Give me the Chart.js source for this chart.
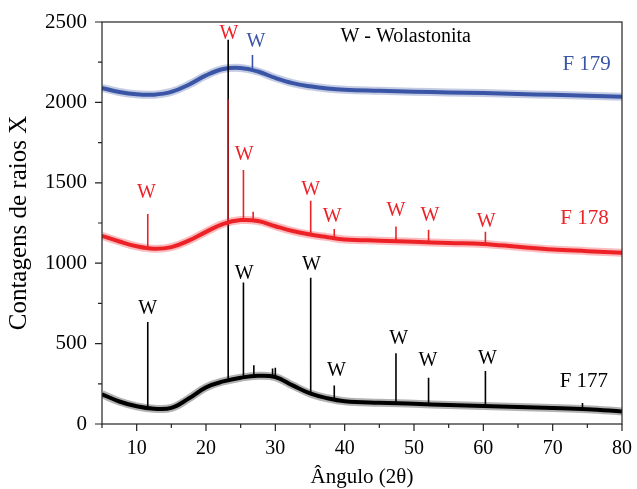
<!DOCTYPE html>
<html>
<head>
<meta charset="utf-8">
<script src="https://cdn.jsdelivr.net/npm/chart.js@4.4.1/dist/chart.umd.min.js"></script>
<style>
body{margin:0;background:#fff}
canvas{display:block}
</style>
</head>
<body>
<canvas class="chart" width="637" height="489"></canvas>
<script>
// 2theta grid of the smooth background of every pattern
const angles=[5,7.5,10,12.5,15,17.5,20,22.5,25,27.5,30,32.5,35,37.5,40,45,50,55,60,65,70,75,80]
const f177Counts=[185,140,110,95,100,158,228,265,288,300,292,240,190,160,142,132,126,118,112,106,100,92,78]
const f178Counts=[1170,1135,1105,1090,1100,1140,1195,1245,1268,1262,1230,1200,1178,1162,1148,1140,1133,1126,1120,1102,1085,1075,1065]
const f179Counts=[2090,2065,2050,2048,2065,2110,2168,2208,2214,2192,2152,2120,2100,2086,2078,2072,2067,2062,2058,2052,2047,2042,2035]

// diffraction peaks: position, foot and top
const f177PeakAngles=[11.6,23.2,25.4,26.9,29.6,30.0,35.1,38.5,47.4,52.1,60.3,74.3]
const f177PeakBases=[100,265,288,298,292,290,190,155,130,125,112,95]
const f177PeakTops=[635,2390,880,365,345,350,910,240,440,288,330,130]
const f178PeakAngles=[11.6,23.15,25.4,26.8,35.1,38.5,47.4,52.1,60.3]
const f178PeakBases=[1095,1240,1266,1266,1178,1160,1138,1132,1120]
const f178PeakTops=[1306,2020,1580,1320,1388,1213,1228,1208,1196]
const f179PeakAngles=[26.7]
const f179PeakBases=[2205]
const f179PeakTops=[2295]

// "W" marks over the wollastonite reflections
const f177LabelAngles=[11.6,25.5,35.2,38.8,47.8,52.0,60.6]
const f177LabelCounts=[715,933,989,330,529,392,404]
const f178LabelAngles=[23.3,11.4,25.5,35.1,38.2,47.4,52.3,60.4]
const f178LabelCounts=[2430,1437,1673,1455,1287,1325,1294,1256]
const f179LabelAngles=[27.2]
const f179LabelCounts=[2376]

const sampleNames=['F 177','F 178','F 179']
const sampleNameAngles=[74.5,74.6,74.9]
const sampleNameCounts=[267,1281,2233]
const legendText='W - Wolastonita'
const legendAngle=48.8
const legendCount=2407

const xTicks=[10,20,30,40,50,60,70,80]
const yTicks=[0,500,1000,1500,2000,2500]

const colors={f177:'#000000',f178:'#ed2227',f179:'#3a55a6'}
const haze={f177:'rgba(0,0,0,0.3)',f178:'rgba(237,34,39,0.3)',f179:'rgba(58,85,166,0.3)'}
const serif='"Liberation Serif","Times New Roman",serif'

function toPoints(xs,ys){
    return xs.map((x,i)=>({x:x,y:ys[i]}))
}
function toSpikes(xs,bases,tops){
    let pts=[]
    for(let i=0;i<xs.length;i++){
        pts.push({x:xs[i],y:bases[i]},{x:xs[i],y:tops[i]},{x:xs[i],y:null})
    }
    return pts
}
function band(label,data,color,width,order){
    return {label,data,borderColor:color,borderWidth:width,pointRadius:0,tension:0.4,order}
}
function spikes(label,data,color,order){
    return {label,data,borderColor:color,borderWidth:1.6,pointRadius:0,spanGaps:false,order}
}

const frameAndText={
    id:'frameAndText',
    afterDatasetsDraw(chart){
        const ctx=chart.ctx
        const a=chart.chartArea
        const xs=chart.scales.x, ys=chart.scales.y
        ctx.save()
        ctx.strokeStyle='#222'
        ctx.lineWidth=1.2
        ctx.strokeRect(a.left,a.top,a.right-a.left,a.bottom-a.top)
        ctx.beginPath()
        for(let i=0;i<xTicks.length;i++){
            let px=xs.getPixelForValue(xTicks[i])
            ctx.moveTo(px,a.bottom);ctx.lineTo(px,a.bottom+7)
            let mid=xs.getPixelForValue(xTicks[i]-5)
            ctx.moveTo(mid,a.bottom);ctx.lineTo(mid,a.bottom+4)
        }
        for(let i=0;i<yTicks.length;i++){
            let py=ys.getPixelForValue(yTicks[i])
            ctx.moveTo(a.left,py);ctx.lineTo(a.left-7,py)
            if(i>0){
                let mid=ys.getPixelForValue(yTicks[i]-250)
                ctx.moveTo(a.left,mid);ctx.lineTo(a.left-4,mid)
            }
        }
        ctx.stroke()

        ctx.textAlign='center'
        ctx.textBaseline='middle'
        ctx.font='20px '+serif
        const groups=[[f177LabelAngles,f177LabelCounts,colors.f177],[f178LabelAngles,f178LabelCounts,colors.f178],[f179LabelAngles,f179LabelCounts,colors.f179]]
        groups.forEach(g=>{
            ctx.fillStyle=g[2]
            for(let i=0;i<g[0].length;i++)
                ctx.fillText('W',xs.getPixelForValue(g[0][i]),ys.getPixelForValue(g[1][i]))
        })
        ctx.font='21px '+serif
        const nameColors=[colors.f177,colors.f178,colors.f179]
        for(let i=0;i<sampleNames.length;i++){
            ctx.fillStyle=nameColors[i]
            ctx.fillText(sampleNames[i],xs.getPixelForValue(sampleNameAngles[i]),ys.getPixelForValue(sampleNameCounts[i]))
        }
        ctx.fillStyle='#000'
        ctx.font='20px '+serif
        ctx.fillText(legendText,xs.getPixelForValue(legendAngle),ys.getPixelForValue(legendCount))
        ctx.restore()
    }
}

let myChart=document.querySelector('.chart').getContext('2d')
const xrdChart=new Chart(myChart,{
    type:'line',
    data:{
        datasets:[
            spikes('F 178 picos',toSpikes(f178PeakAngles,f178PeakBases,f178PeakTops),colors.f178,1),
            band('F 178',toPoints(angles,f178Counts),colors.f178,4,2),
            band('F 178 ruído',toPoints(angles,f178Counts),haze.f178,8,3),
            spikes('F 177 picos',toSpikes(f177PeakAngles,f177PeakBases,f177PeakTops),colors.f177,4),
            band('F 177',toPoints(angles,f177Counts),colors.f177,4,5),
            band('F 177 ruído',toPoints(angles,f177Counts),haze.f177,8,6),
            spikes('F 179 picos',toSpikes(f179PeakAngles,f179PeakBases,f179PeakTops),colors.f179,7),
            band('F 179',toPoints(angles,f179Counts),colors.f179,4,8),
            band('F 179 ruído',toPoints(angles,f179Counts),haze.f179,8,9)
        ]
    },
    options:{
        responsive:false,
        animation:false,
        events:[],
        layout:{padding:{left:0,right:12,top:22,bottom:0}},
        plugins:{legend:{display:false},tooltip:{enabled:false}},
        scales:{
            x:{
                type:'linear',min:5,max:80,
                afterBuildTicks:s=>{s.ticks=xTicks.map(v=>({value:v}))},
                afterFit:s=>{s.height=65},
                grid:{display:false,tickLength:8},
                border:{display:false},
                ticks:{color:'#000',padding:5,maxRotation:0,font:{family:serif,size:20},callback:v=>String(v)},
                title:{display:true,text:'Ângulo (2θ)',color:'#000',padding:{top:0,bottom:0},font:{family:serif,size:21,lineHeight:1.05}}
            },
            y:{
                type:'linear',min:0,max:2500,
                afterBuildTicks:s=>{s.ticks=yTicks.map(v=>({value:v}))},
                afterFit:s=>{s.width=102},
                grid:{display:false,tickLength:8},
                border:{display:false},
                ticks:{color:'#000',padding:7,font:{family:serif,size:21},callback:v=>String(v)},
                title:{display:true,text:'Contagens de raios X',color:'#000',padding:{top:4,bottom:0},font:{family:serif,size:25}}
            }
        }
    },
    plugins:[frameAndText]
})
</script>
</body>
</html>
